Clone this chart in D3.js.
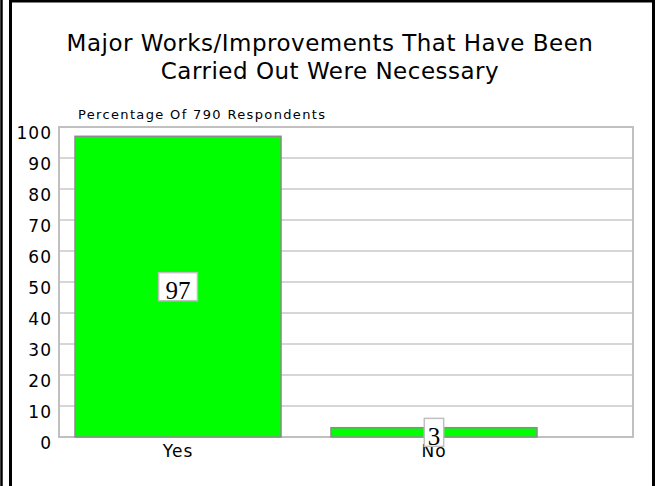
<!DOCTYPE html>
<html><head><meta charset="utf-8">
<script src="https://cdn.jsdelivr.net/npm/d3@7"></script>
<style>body{margin:0;background:#fff;} svg{display:block;}</style>
</head><body>
<svg id="c" width="657" height="486"></svg>
<script>
const categories = ["Yes", "No"];
const values = [97, 3];
const yTicks = [0,10,20,30,40,50,60,70,80,90,100];
const titleLines = ["Major Works/Improvements That Have Been", "Carried Out Were Necessary"];
const subtitle = "Percentage Of 790 Respondents";

const svg = d3.select("#c");
const font = "DejaVu Sans, Verdana, sans-serif";

// outer frame
svg.append("line").attr("x1",1.5).attr("x2",1.5).attr("y1",0).attr("y2",486).attr("stroke","#000").attr("stroke-width",2.5);
svg.append("rect").attr("x",10.5).attr("y",1).attr("width",643).attr("height",520)
  .attr("fill","none").attr("stroke","#000").attr("stroke-width",3);

const L = 59, R = 633, T = 127, B = 437;
const x = d3.scaleBand().domain(categories).range([L, 553]).paddingInner(0.195).paddingOuter(0.0625);
const y = d3.scaleLinear().domain([0,100]).range([B, T]);

// title
svg.append("g").selectAll("text").data(titleLines).join("text")
  .attr("x", 330).attr("y", (d,i)=> 51 + i*28)
  .attr("text-anchor","middle").attr("font-family",font).attr("font-size",23)
  .attr("letter-spacing",0.5).attr("fill","#000")
  .text(d=>d);
svg.append("text").attr("x",78).attr("y",119).attr("font-family",font).attr("font-size",13)
  .attr("letter-spacing",1.35).attr("fill","#000").text(subtitle);

// grid
svg.append("g").selectAll("line").data(yTicks).join("line")
  .attr("x1", L).attr("x2", R).attr("y1", d=>y(d)).attr("y2", d=>y(d))
  .attr("stroke","#c8c8c8").attr("stroke-width",1.5);
svg.append("rect").attr("x",L).attr("y",T).attr("width",R-L).attr("height",B-T)
  .attr("fill","none").attr("stroke","#c0c0c0").attr("stroke-width",2);

// y axis labels
const yAxis = d3.axisLeft(y).tickValues(yTicks).tickSize(0).tickPadding(7);
const ga = svg.append("g").attr("transform",`translate(${L},6)`).call(yAxis);
ga.select(".domain").remove();
ga.selectAll("text").attr("font-family",font).attr("font-size",17).attr("letter-spacing",1).attr("fill","#000");

// bars
svg.append("g").selectAll("rect").data(values).join("rect")
  .attr("x",(d,i)=>x(categories[i])).attr("width",x.bandwidth())
  .attr("y",d=>y(d)).attr("height",d=>B-y(d))
  .attr("fill","#00ff00").attr("stroke","#8c8c8c").attr("stroke-width",1.5);

// x labels
const xAxis = d3.axisBottom(x).tickSize(0).tickPadding(8);
const gx = svg.append("g").attr("transform",`translate(0,${B})`).call(xAxis);
gx.select(".domain").remove();
gx.selectAll("text").attr("font-family",font).attr("font-size",17).attr("letter-spacing",1).attr("fill","#000");

// value labels
const vl = svg.append("g").selectAll("g").data(values).join("g")
  .attr("transform",(d,i)=>`translate(${x(categories[i])+x.bandwidth()/2},${(y(d)+B)/2})`);
vl.append("text").attr("text-anchor","middle").attr("y",12.5)
  .attr("font-family","Liberation Serif, Times New Roman, serif").attr("font-size",25).attr("fill","#000")
  .text(d=>d)
  .each(function(){
    const w = this.getComputedTextLength() * 1.55;
    d3.select(this.parentNode).insert("rect","text")
      .attr("x", -w/2).attr("y",-14).attr("width", w).attr("height",28)
      .attr("fill","#fff").attr("stroke","#c0c0c0").attr("stroke-width",1.5);
  });
</script>
</body></html>
